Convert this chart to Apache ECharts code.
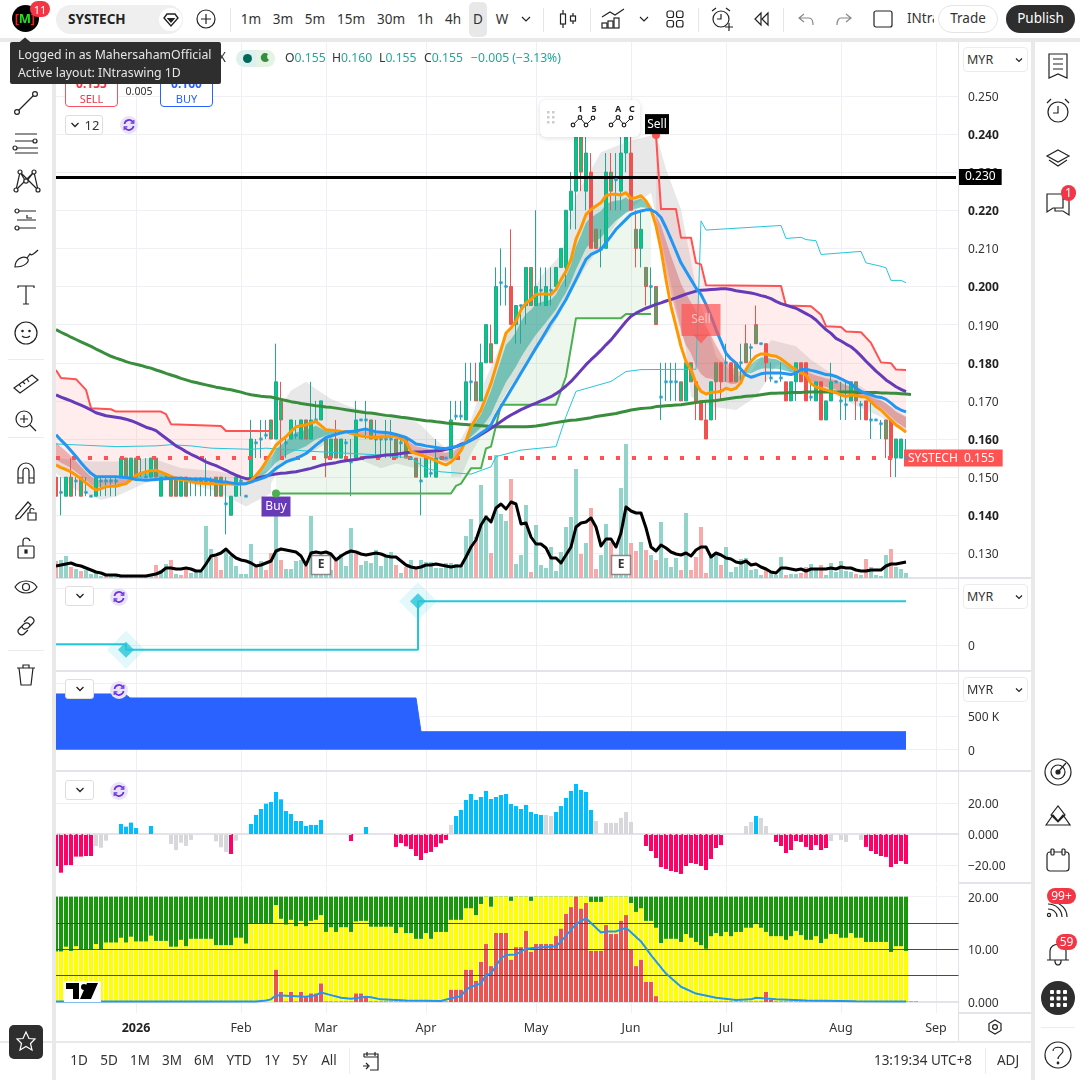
<!DOCTYPE html>
<html><head><meta charset="utf-8">
<script src="https://cdn.jsdelivr.net/npm/echarts@6/dist/echarts.min.js"></script>
<style>
html,body{margin:0;padding:0;background:#fff;width:1080px;height:1080px;overflow:hidden;font-family:"Noto Sans",sans-serif;color:#222}
#chart{position:absolute;left:0;top:0;width:1080px;height:1080px}
.o{position:absolute;box-sizing:border-box}
.t{position:absolute;white-space:nowrap;transform:translate(-50%,-50%);line-height:1}
.l{position:absolute;white-space:nowrap;transform:translateY(-50%);line-height:1}
svg.i{position:absolute;transform:translate(-50%,-50%);fill:none;stroke:#222;stroke-width:1.2;overflow:visible}
</style></head><body>
<div id="chart"></div><div id="ui"></div>
<script>
// ---------- bars: prices in 0.001 MYR ----------
const candleOpen=[150,146,145,145,149,145,146,145,145,149,149,149,149,150,150,150,150,151,150,150,150,145,150,145,145,145,145,149,149,149,149,149,145,145,143,140,145,149,145,150,159,160,161,160,160,165,159,160,161,160,160,160,165,165,155,155,155,155,159,154,155,165,165,160,160,160,160,160,155,159,155,155,150,149,150,151,150,155,155,155,166,166,165,175,170,170,180,180,185,201,200,200,190,195,195,195,195,199,195,199,200,205,205,220,225,230,225,230,210,210,210,225,228,225,235,235,210,210,200,200,190,171,175,175,175,170,170,175,170,170,165,165,175,180,180,180,175,180,180,184,185,185,185,176,175,176,175,170,175,180,180,171,170,175,165,170,175,170,169,170,170,169,170,165,165,164,160,165,155,155,155];
const candleHigh=[155,150,150,155,150,150,150,145,150,150,150,150,150,155,155,155,155,155,155,155,155,150,150,150,150,150,150,150,150,150,155,150,150,150,150,145,150,150,145,165,160,165,165,165,185,175,160,165,165,165,165,175,170,170,160,160,165,160,160,160,170,165,170,165,165,160,165,165,160,160,160,155,155,155,155,155,160,155,155,170,170,170,180,180,180,185,190,190,205,210,205,215,195,195,205,205,220,205,205,205,205,210,220,230,241,241,241,235,215,215,235,235,235,240,241,240,220,220,205,205,200,180,180,180,180,175,180,180,175,170,170,175,180,180,185,180,180,185,190,185,195,185,185,180,175,180,175,175,180,180,180,175,175,175,170,180,175,175,175,175,175,170,170,170,165,165,165,165,160,160,160];
const candleLow=[145,140,145,145,145,145,145,145,145,145,145,145,145,150,150,150,150,150,150,150,150,145,150,145,145,145,145,145,145,145,145,145,145,145,135,140,145,145,145,150,155,155,160,160,160,155,155,160,160,160,160,160,165,165,150,155,155,155,155,145,155,165,160,160,155,155,155,155,155,155,155,155,150,140,150,150,150,155,155,155,165,165,165,170,170,170,180,180,185,195,195,190,185,185,190,195,195,195,195,195,200,205,200,215,215,225,220,210,210,205,210,220,220,220,230,220,205,205,195,195,190,165,170,170,170,170,170,175,165,165,160,165,165,170,175,175,175,175,180,180,185,185,175,175,175,175,170,170,170,175,170,170,170,165,165,170,175,165,165,170,165,165,165,160,165,160,155,150,150,155,155];
const candleClose=[145,146,150,150,149,150,146,145,150,149,149,149,149,155,155,155,155,151,150,155,155,150,150,150,150,150,150,149,149,149,149,149,150,150,143,145,150,149,145,160,159,160,161,165,175,170,159,165,161,165,165,165,165,170,160,160,160,160,159,154,165,165,165,165,160,160,160,160,160,159,160,155,155,149,155,151,155,155,155,165,166,166,175,175,175,180,190,185,200,201,200,190,195,195,205,205,200,199,200,199,205,210,220,225,240,240,235,210,215,210,230,230,228,235,240,220,215,215,205,200,200,171,175,175,175,175,180,180,175,165,160,175,180,175,180,175,180,180,185,184,190,185,180,176,175,176,170,175,180,175,170,171,175,165,170,175,175,170,169,175,175,169,165,165,165,164,165,155,160,160,155];
const candleTones="RDGXDXDDGDDDDGXGXDDGXGDXXGXDDDDDXXDGGDDGDDDXGXDGDGXGDGXGXGDDGDDXDDDDXDXDXDGDGDDGDDGDXGGXGDDRGDGXGDGDGGGGGXGRXDGXDGGRXGXDXDDDDXGXXRRGXRDRXDXDXDRDDDRGGRRDGRGGDDDGXDRDDDXRGGD";
// ---------- volume pane overlay ----------
const volumeValues=[17,18,22,11,9,7,8,4,5,2,2,2,2,2,2,2,2,3,3,3,13,8,14,18,4,3,8,5,6,6,52,29,21,8,28,22,12,4,4,34,11,17,8,25,68,18,9,9,17,18,12,62,17,12,20,8,20,24,12,50,24,13,17,15,28,12,22,26,13,5,11,18,10,18,16,16,10,10,15,15,14,13,42,59,41,93,63,25,123,64,57,99,14,23,73,6,53,13,10,31,7,26,51,61,109,24,35,70,9,23,54,36,16,90,134,35,27,36,28,23,18,56,20,11,20,8,65,8,21,51,5,23,26,13,31,6,11,19,20,8,9,3,9,6,3,21,3,4,4,5,11,14,10,13,3,15,6,17,7,6,4,3,19,11,3,2,23,29,11,9,5];
const volumeDownBars=[0,3,5,10,20,23,25,26,32,33,40,42,43,45,50,56,60,68,70,72,84,87,91,95,105,107,108,111,115,116,118,120,125,127,128,129,130,133,142,146,149,150,153,160,162,167];
const volumeAverage=[12,13,14,15,13,12,10,8,6,5,3,3,3,2,2,2,2,2,2,3,4,6,10,10,9,9,10,9,7,7,14,22,23,25,29,24,20,18,17,15,12,13,15,17,27,29,28,27,26,22,13,25,26,25,26,24,18,22,25,27,26,24,23,24,25,24,22,21,21,17,13,11,10,11,13,13,14,13,12,11,12,12,21,31,38,53,61,56,70,74,69,76,74,54,55,41,34,34,30,20,20,15,23,31,51,55,56,60,51,32,39,39,31,45,71,67,65,65,50,31,27,33,30,26,24,23,25,22,28,31,31,21,25,23,20,19,16,15,17,13,14,11,9,6,5,10,10,9,8,9,7,9,9,9,9,10,9,11,10,10,8,7,7,8,8,8,12,14,14,15,16];
// ---------- moving averages ----------
const emaFast=[.1532,.1525,.152,.1514,.1505,.1496,.1485,.1475,.1466,.147,.1475,.1476,.1476,.148,.1483,.1493,.1505,.151,.1514,.1517,.1518,.1513,.1508,.1502,.1496,.1494,.1492,.1489,.1485,.1484,.1483,.1483,.1483,.1483,.1483,.1482,.1481,.1482,.1483,.1492,.1505,.152,.154,.1562,.1584,.1596,.1606,.162,.1632,.1635,.1637,.1642,.1646,.1635,.1624,.1623,.1622,.162,.1619,.1615,.1611,.1608,.1606,.1605,.1604,.1605,.1606,.1607,.1608,.16,.1593,.1567,.1562,.1558,.1554,.1549,.1543,.1537,.1532,.154,.1552,.157,.1596,.1632,.1654,.1676,.1711,.1746,.179,.1834,.1878,.1891,.1909,.1939,.1957,.1966,.1979,.198,.198,.1979,.1992,.2018,.204,.2071,.2124,.2154,.2189,.2202,.2211,.222,.2238,.2242,.2242,.224,.2246,.2231,.2233,.2238,.2224,.2202,.2159,.2097,.2018,.1948,.1896,.1843,.1803,.1782,.1746,.1725,.1718,.1722,.1723,.1725,.1733,.1729,.1733,.1748,.1782,.1803,.1817,.1823,.1823,.1819,.1817,.181,.18,.179,.1782,.1773,.1768,.1746,.1736,.1733,.1729,.1725,.1722,.1716,.1711,.1716,.1714,.1711,.171,.1698,.1685,.1676,.1663,.165,.1637,.1628,.1618];
const emaSlow=[.1611,.1597,.1584,.1569,.1554,.1538,.1523,.151,.1501,.1501,.1501,.1501,.1501,.15,.1499,.1497,.1494,.1493,.1492,.1493,.1494,.1495,.1496,.1497,.1497,.1497,.1496,.1495,.1495,.1495,.1495,.1493,.149,.1488,.1487,.1485,.1483,.1483,.1483,.1487,.1492,.1496,.1501,.1511,.1523,.1531,.154,.1545,.1549,.1555,.1562,.1573,.1584,.1594,.1604,.1608,.1612,.1616,.1619,.162,.1621,.1624,.1626,.1622,.1619,.1618,.1617,.1615,.1612,.1608,.1604,.1596,.1587,.1585,.1582,.158,.1578,.1576,.1575,.1578,.158,.1584,.159,.1597,.1606,.1615,.1624,.1637,.1663,.1685,.1707,.1729,.1751,.1773,.1795,.1817,.1839,.186,.1882,.1904,.1922,.1944,.1966,.1992,.2018,.2045,.2071,.2084,.209,.2097,.2115,.2132,.215,.2163,.2176,.2189,.2194,.2198,.2201,.2201,.2194,.2181,.2154,.2124,.2093,.2062,.204,.2018,.1996,.1979,.1953,.1922,.1887,.1856,.1825,.181,.1799,.1783,.1768,.1762,.1766,.1771,.1773,.1773,.1773,.1773,.1771,.1769,.1773,.1782,.1783,.178,.1777,.1773,.1769,.1768,.1764,.1758,.1751,.1745,.1733,.1725,.172,.1716,.1711,.1709,.1704,.1694,.1683,.1676,.1671];
const maPurple=[.1716,.171,.1705,.17,.1694,.1689,.1683,.1676,.1669,.1665,.1661,.1659,.1657,.1655,.1652,.1648,.1643,.1637,.1631,.1627,.1622,.1612,.1602,.1592,.1582,.1575,.1567,.156,.1554,.1547,.154,.1535,.153,.1524,.1518,.1511,.1505,.15,.1496,.1496,.1496,.15,.1503,.1506,.1508,.151,.1511,.1513,.1514,.1517,.152,.1523,.1527,.1531,.1534,.1536,.1538,.1541,.1543,.1545,.1546,.1549,.1552,.1553,.1554,.1556,.1558,.1559,.156,.1562,.1564,.1565,.1566,.1566,.1567,.1568,.1569,.157,.1573,.1576,.158,.1586,.1591,.1597,.1604,.1612,.162,.1628,.1637,.1646,.1655,.1663,.167,.1677,.1683,.1689,.1694,.17,.1705,.1711,.1719,.1728,.1739,.1751,.1765,.178,.1795,.1808,.182,.1833,.1847,.186,.1876,.1892,.1908,.1922,.193,.1937,.1943,.1948,.1953,.1957,.1962,.1966,.197,.1975,.198,.1984,.1988,.199,.1991,.1992,.1993,.1994,.1994,.1992,.1989,.1987,.1985,.1983,.198,.1976,.1973,.1968,.1961,.1955,.1951,.1947,.1943,.1936,.1929,.1922,.1912,.1899,.1887,.1877,.1864,.1857,.1849,.1842,.1831,.1818,.1804,.1791,.1778,.1767,.1755,.1746,.1737,.173,.1724];
const maLongGreen=[.1887,.188,.1874,.1867,.1861,.1855,.1849,.1843,.1836,.183,.1823,.1817,.1812,.1808,.1803,.1799,.1796,.1793,.1789,.1786,.1781,.1777,.1772,.1768,.1764,.1759,.1755,.1751,.1748,.1745,.1742,.1739,.1736,.1734,.1731,.1729,.1726,.1723,.1719,.1716,.1714,.1712,.1711,.171,.1707,.1704,.1701,.1698,.1696,.1693,.1691,.1689,.1687,.1686,.1684,.1683,.1681,.1679,.1677,.1675,.1673,.1671,.1669,.1668,.1666,.1664,.1662,.1661,.1659,.1657,.1656,.1654,.1652,.165,.1648,.1647,.1645,.1644,.1642,.1641,.164,.1639,.1638,.1637,.1636,.1635,.1634,.1633,.1632,.1632,.1632,.1632,.1632,.1632,.1632,.1633,.1634,.1636,.1638,.1641,.1643,.1645,.1647,.1649,.165,.1652,.1654,.1656,.1659,.1661,.1663,.1665,.1667,.167,.1673,.1676,.1678,.168,.1681,.1682,.1685,.1686,.1687,.1688,.1689,.169,.1692,.1694,.1696,.1698,.1699,.17,.1701,.1703,.1705,.1707,.1709,.171,.1712,.1713,.1714,.1716,.1718,.172,.172,.1721,.1721,.1722,.1722,.1722,.1723,.1723,.1723,.1723,.1723,.1723,.1723,.1723,.1723,.1723,.1722,.1722,.1722,.1722,.1722,.1721,.1721,.172,.172,.1719,.1718,.1717];
// ---------- sparse stop and channel lines: [bar, price] ----------
const stopRedLeft=[[0,.1781],[1,.176],[4,.1757],[6,.1729],[7,.1681],[11,.1678],[12,.1672],[21,.1672],[22,.1665],[23,.1639],[33,.1634],[34,.1621],[43,.1621]];
const stopRedRight=[[120,.2397],[121,.2203],[124,.2203],[125,.2128],[127,.2128],[128,.2062],[129,.2058],[130,.2003],[145,.2001],[146,.195],[151,.1948],[153,.1926],[154,.1896],[157,.1894],[158,.1882],[161,.188],[163,.1852],[165,.1801],[167,.1799],[168,.1782],[170,.1781]];
const stopGreen=[[44,.1457],[79,.1457],[80,.1477],[81,.1483],[83,.1523],[85,.1523],[86,.1575],[87,.158],[89,.169],[100,.169],[102,.1764],[104,.1917],[113,.1917],[114,.1928],[119,.1928]];
const channelCyan=[[0,.1587],[12,.158],[20,.1582],[23,.1585],[27,.1582],[31,.1576],[39,.1573],[42,.1576],[52,.1567],[65,.1558],[71,.155],[74,.1523],[77,.1514],[83,.1508],[87,.1527],[88,.1554],[93,.1571],[100,.158],[102,.1659],[104,.1725],[111,.1751],[114,.1777],[117,.1782],[128,.1783],[129,.2172],[130,.2148],[145,.216],[146,.2126],[149,.2129],[150,.2123],[152,.212],[153,.2084],[157,.2088],[161,.2092],[162,.2062],[165,.2053],[166,.2049],[167,.2016],[169,.2016],[170,.201]];
// ---------- grey volatility band outlines: [bar, price] ----------
const greyBandA=[[0,.155],[7,.1541],[12,.1541],[19,.155],[25,.1524],[32,.1516],[39,.1498],[43,.1523],[43,.1458],[38,.1423],[32,.1463],[27,.1481],[22,.1494],[18,.1485],[12,.1449],[9,.144],[4,.1466],[0,.151]];
const greyBandB=[[43,.1523],[45,.1687],[47,.1727],[50,.175],[52,.1731],[55,.1705],[59,.1684],[63,.1671],[71,.1654],[73,.1636],[76,.1597],[79,.1567],[79,.1536],[76,.1541],[72,.1523],[68,.1536],[65,.1523],[61,.1545],[57,.1563],[54,.1589],[51,.1563],[47,.1545],[45,.1536],[43,.1483]];
const greyBandC=[[79,.1551],[83,.165],[85,.1729],[90,.1878],[94,.1957],[97,.2027],[101,.2084],[104,.2238],[109,.2352],[114,.2378],[120,.24],[122,.2308],[125,.2202],[128,.2],[132,.1817],[136,.1764],[139,.1773],[143,.186],[148,.1843],[151,.1808],[156,.1764],[161,.1738],[165,.1703],[170,.1659],[170,.1614],[165,.1658],[159,.1694],[152,.1738],[148,.1764],[145,.1799],[144,.179],[140,.1711],[136,.1676],[131,.1685],[127,.1711],[126,.1834],[121,.2124],[119,.2246],[113,.2185],[110,.2124],[106,.2053],[103,.1983],[99,.1887],[94,.1799],[90,.172],[87,.165],[83,.1562],[81,.1501],[79,.1501]];
// ---------- level and signal values ----------
const currentPrice=.155, blackLevel=.2287;
const buySignal=[44,.1457], sellSignal=[120,.2397], sellFlag=[129,.1912], sellFlagTip=[129,.1862], earningsBars=[53,113], earningsHeight=13;
// ---------- pane 2 step line: [bar, value] ----------
const stepTrend=[[-.5,.02],[14,.02],[14,-.08],[72.4,-.08],[72.4,.78],[170,.78]];
const stepMarkers=[[14,-.08],[72.4,.78]];
// ---------- pane 3 area: [bar, value] ----------
const areaLevel=[[-.5,834000],[13.8,834000],[14.8,774000],[72,774000],[73,269000],[170,269000]];
// ---------- pane 4 histogram ----------
const momentum=[-20.5,-24.8,-19.9,-19.9,-14.5,-14.5,-14.1,-14.1,-7.7,-8.8,-4.3,0,0,6.4,4.7,7.3,3.8,0,0,5.1,0,0,0,-6.4,-10.3,-5.6,-7.7,-3.8,0,0,0,0,-4.7,-8.5,-11.5,-12.8,-4.3,0,0,6.4,12.2,16,19.4,20.5,26.9,22.2,14.7,12.8,8.3,8.3,5.1,5.8,5.8,9,0,0,0,0,0,-4.5,0,0,4.5,0,0,0,0,0,-8.3,-5.8,-7.9,-9.6,-14.1,-16.7,-12.2,-11.5,-8.3,-6,-3.8,5.8,11.5,15.4,21.8,25.6,21.8,23.7,27.6,22.4,23.7,25,25.6,19.2,17.9,16,18.6,14.1,12.8,12.2,12.2,11.5,14.1,17.9,23.1,27.6,32,28.2,26.9,15.4,8.3,0,7.1,7.1,7.1,10.3,14.1,7.7,0,0,-7.7,-10.9,-15.4,-21.2,-22.4,-23.7,-24.4,-25.6,-20.5,-18.6,-19.2,-20.5,-23.1,-16,-9,-7.1,0,0,0,0,5.1,7.7,11.5,10.3,5.1,0,-5.1,-7.7,-12.2,-10.3,-4.5,-5.1,-8.3,-10.3,-7.1,-10.3,-9,-4.5,0,-3.8,-5.1,0,0,-3.8,-8.3,-10.9,-12.8,-14.1,-14.7,-21.2,-19.2,-17.3,-19.2];
const momentumNeutralBars=[8,9,10,23,24,25,26,27,32,33,34,36,79,98,99,108,110,111,112,113,114,115,138,139,141,142,155,157,158,161];
// ---------- pane 5 stacked bars ----------
const scoreCeiling=20;
const scoreYellow=[9.6,9.6,10.5,9.7,10.6,10,10,10,11,10,11.3,11.3,11.3,12.2,11.3,12.4,11.5,11.5,11.5,12.6,11.6,11.6,11.6,10.5,10.5,11.8,10.6,12,12,12,12,12,10.8,10.8,10.8,10.8,12.2,12.2,11.1,14.9,14.9,14.9,14.9,14.9,18.4,15.8,14.7,15.6,14.4,15.4,14.4,15.4,15.6,16.5,13.3,14.2,13.3,14.2,14.2,13.3,15.3,15.4,15.4,14.3,14.3,14.3,14.3,14.3,13.1,14.2,13.1,13.1,12,12,13.1,12,13.3,13.3,13.3,15.6,15.6,15.6,17.8,17.8,16.5,18.6,20,18.1,20,20,20,19.2,20,20,20,19.2,20,20,20,20,20,20,20,20,20,20,20,19,19,19,20,20,20,20,20,18.8,17.1,17.8,15.4,15.4,14.1,11.2,12,12,12,11.4,12.9,12.2,11.4,10.8,10.1,12.5,13.1,12.5,13.3,12.5,13.3,13.3,14.1,14.1,14.8,14.1,13.3,12.5,12.5,12.5,11.8,12.5,13.5,12.7,11.8,11.8,12.5,11.2,12,12.9,12.9,12.2,12.2,13.1,12.2,12.2,11.4,11.4,11.4,11.4,11.4,9.5,10.6,10.6,9.7];
const scoreRed=[0,0,0,0,0,0,0,0,0,0,0,0,0,0,0,0,0,0,0,0,0,0,0,0,0,0,0,0,0,0,0,0,0,0,0,0,0,0,0,0,0,0,0,0,6.1,1.9,.1,1.9,.1,1.9,1.1,1.6,1.6,3.5,.1,.1,.1,.1,.1,.1,1.6,1.6,1.1,.1,.1,.1,.1,.1,.1,.1,.1,.1,.1,.1,.1,.1,.1,.1,.1,2.3,2.3,2.3,6.1,6.1,4,7.6,11,6.8,13.1,13.1,13.1,8,10.4,10.4,13.5,9.5,11,11,11,11,12.5,13.9,16.7,18,20,17.7,18.8,9.7,9.7,9.7,14.6,12.9,12.9,15.4,16.5,9.9,6.8,8,3.8,3.8,1.1,.1,.1,.1,.1,.1,.1,.1,.1,.1,.1,.1,.1,.1,.1,.1,.1,.1,.1,.1,.1,.1,1.9,.4,.1,.1,.1,.1,.1,.1,.1,.1,.1,.1,.1,.1,.1,.1,.1,.1,.1,.1,.1,.1,.1,.1,.1,.1,.1,.1,.1,.1,.1];
const scoreLine=[[0,.1],[40,.1],[42,.3],[43,.5],[44,1.3],[48,1.1],[50,1],[52,1.3],[53,1.8],[55,1.3],[57,.8],[59,.6],[62,1],[63,.9],[65,.5],[70,.3],[74,.25],[77,.2],[79,.7],[81,1.1],[82,2.3],[83,2.9],[85,3.5],[86,5.1],[87,5.4],[89,8.3],[90,8.9],[92,9],[93,9.6],[94,10.1],[96,10.3],[100,10.6],[101,11.5],[103,13.7],[104,14.8],[106,15.9],[109,13.2],[110,13.4],[112,13.4],[114,14.1],[117,11.5],[119,8.9],[122,5.4],[125,2.9],[128,1.6],[132,.8],[136,.4],[139,.5],[140,.8],[144,.5],[150,.3],[160,.15],[170,.1]];
const scoreLevels=[15,10,5];
// ---------- axis labels ----------
const monthTickBars=[16,37,54,74,96,115,134,157,176];
const monthTickLabels=["2026","Feb","Mar","Apr","May","Jun","Jul","Aug","Sep"];
const priceTicks=[.13,.14,.15,.16,.17,.18,.19,.20,.21,.22,.23,.24,.25];
const boldPriceTicks=[.14,.16,.18,.20,.22,.24];
const categories=[];for(let n=0;n<181;n++)categories.push("bar"+n);
const BARS=candleOpen.length;

// ---------- panes ----------
const GRID='#f0f0f4', SEP='#e3e3ea', LABEL='#333';
const panes=[{top:42,height:536},{top:579,height:92},{top:672,height:99},{top:772,height:111},{top:884,height:129}];
const grids=panes.map(p=>({left:53.5,width:905,top:p.top,height:p.height,containLabel:false}));
function catAxis(k){return{type:'category',gridIndex:k,data:categories,boundaryGap:true,
  axisLine:{show:true,lineStyle:{color:SEP,width:2}},
  axisTick:{show:false,alignWithLabel:true,customValues:monthTickBars},
  axisLabel:{show:k==4,customValues:monthTickBars,margin:9,fontSize:12.5,fontFamily:'Noto Sans',color:LABEL,
    formatter:v=>{const t=monthTickLabels[monthTickBars.indexOf(categories.indexOf(v))]||'';return t==='2026'?'{b|2026}':t},rich:{b:{fontWeight:'bold',fontSize:12.5,color:'#222',fontFamily:'Noto Sans'}}},
  splitLine:{show:true,alignWithLabel:true,lineStyle:{color:GRID,width:1}}}}
function valAxisX(k){return{type:'value',gridIndex:k,min:-.5,max:180.5,
  axisLine:{show:true,onZero:false,lineStyle:{color:SEP,width:2}},
  axisTick:{show:false,customValues:monthTickBars},axisLabel:{show:false},
  splitLine:{show:true,lineStyle:{color:GRID,width:1}}}}
function yAx(k,min,max,vals,fmt,extra){return Object.assign({type:'value',gridIndex:k,position:'right',min,max,scale:true,
  axisLine:{show:true,onZero:false,lineStyle:{color:SEP,width:1}},
  axisTick:{show:false,customValues:vals},
  axisLabel:{show:true,customValues:vals,margin:9.5,fontSize:12,fontFamily:'Noto Sans',color:LABEL,formatter:fmt,padding:[3,0,0,0],
     rich:{b:{fontWeight:'bold',fontSize:12,color:'#222',fontFamily:'Noto Sans'}}},
  splitLine:{show:true,lineStyle:{color:GRID,width:1}}},extra||{})}

const xAxes=[catAxis(0),valAxisX(1),valAxisX(2),catAxis(3),catAxis(4)];
const yAxes=[
 yAx(0,.12355,.26412,priceTicks,v=>{const s=v.toFixed(3);return boldPriceTicks.some(b=>Math.abs(b-v)<1e-6)?'{b|'+s+'}':s}),
 yAx(1,-.454,1.171,[0,1],v=>v===0?'0':''),
 yAx(2,-319000,1163000,[0,500000,1000000],v=>v===0?'0':(v===500000?'500 K':'')),
 yAx(3,-31.4,39.7,[-20,0,20],v=>v===0?'0.000':(v<0?'\u2212':'')+Math.abs(v).toFixed(2)),
 yAx(4,-2.09,22.4,[0,10,20],v=>v===0?'0.000':v.toFixed(2)),
 {type:'value',gridIndex:0,show:false,min:0,max:536,splitLine:{show:false}}
];

// polygon through library scales
function polySeries(pts,color,z){return{type:'custom',xAxisIndex:0,yAxisIndex:0,z,silent:true,clip:true,data:[pts[0]],encode:{x:0,y:1},
  renderItem:(p,api)=>{return{type:'polygon',shape:{points:pts.map(q=>api.coord(q))},style:{fill:color,stroke:null}}}}}
function rev(a){return a.slice().reverse()}
function slice(arr,a,b){const out=[];for(let i=a;i<=b;i++)out.push([i,arr[i]]);return out}

const RIBBON_TOP=.82, RIBBON_LOW=.25;
const ribbonData=[];for(let i=0;i<BARS-1;i++)ribbonData.push([i,emaFast[i],emaSlow[i],emaFast[i+1],emaSlow[i+1]]);
const ribbon={type:'custom',xAxisIndex:0,yAxisIndex:0,z:2,silent:true,data:ribbonData,encode:{x:0,y:1},
  renderItem:(p,api)=>{const i=api.value(0),a=api.value(1),b=api.value(2),c=api.value(3),d=api.value(4);
    const m=(s,t,f)=>t+(s-t)*f;
    return{type:'polygon',shape:{points:[api.coord([i,m(a,b,RIBBON_TOP)]),api.coord([i+1,m(c,d,RIBBON_TOP)]),api.coord([i+1,m(c,d,RIBBON_LOW)]),api.coord([i,m(a,b,RIBBON_LOW)])]},
    style:{fill:(a+c)>=(b+d)?'rgba(38,166,154,.55)':'rgba(200,50,50,.32)'}}}};

const candleData=candleOpen.map((o,i)=>{
  const tone=candleTones[i];
  const up={G:'#00cc7e',X:'#00cc7e',R:'#ef5350',D:'#26a69a'}[tone];
  const edge={G:'#26a69a',X:'#ef5350',R:'#ef5350',D:'#26a69a'}[tone];
  return{value:[o/1000,candleClose[i]/1000,candleLow[i]/1000,candleHigh[i]/1000],
    itemStyle:{color:up,color0:up,borderColor:edge,borderColor0:edge,borderColorDoji:edge}}});
const dojiDots=[];candleOpen.forEach((o,i)=>{if(candleTones[i]==='D')dojiDots.push([i,candleClose[i]/1000])});

const volumeData=volumeValues.map((v,i)=>({value:v,itemStyle:{color:volumeDownBars.includes(i)?'#f8a9a9':'#92d3ca'}}));

function line(data,color,width,z,extra){return Object.assign({type:'line',xAxisIndex:0,yAxisIndex:0,data,symbol:'none',z,silent:true,
  lineStyle:{color,width,join:'round'},animation:false},extra||{})}

const series=[
 polySeries(greyBandA,'rgba(120,120,120,.17)',1),
 polySeries(greyBandB,'rgba(120,120,120,.17)',1),
 polySeries(greyBandC,'rgba(120,120,120,.17)',1),
 polySeries(stopRedLeft.concat(rev(slice(emaFast,0,43))),'rgba(255,82,82,.1)',1),
 polySeries(stopRedRight.concat(rev(slice(emaFast,120,170))),'rgba(255,82,82,.1)',1),
 polySeries(slice(emaFast,44,119).concat(rev(stopGreen)),'rgba(76,175,80,.1)',1),
 ribbon,
 {type:'bar',xAxisIndex:0,yAxisIndex:5,data:volumeData,barWidth:4,z:3,silent:true},
 {type:'candlestick',xAxisIndex:0,yAxisIndex:0,data:candleData,barWidth:4,z:4,silent:true,itemStyle:{borderWidth:1}},
 {type:'scatter',xAxisIndex:0,yAxisIndex:0,data:dojiDots,symbol:'rect',symbolSize:[3,3],itemStyle:{color:'#2a9fd6'},z:5,silent:true},
 line(channelCyan,'#26c6da',1,6),
 line(stopRedLeft,'#ff5252',2,6),
 line(stopRedRight,'#ff5252',2,6,{markPoint:{silent:true,data:[
    {coord:sellSignal,symbol:'circle',symbolSize:8,itemStyle:{color:'#ff5252'},label:{show:false}},
    {coord:sellSignal,symbol:'rect',symbolSize:[24,20],symbolOffset:[1,-11],itemStyle:{color:'#000'},
     label:{show:true,formatter:'Sell',color:'#fff',fontSize:12,fontFamily:'Noto Sans',position:'inside'}}]}}),
 line(stopGreen,'#4caf50',2,6,{markPoint:{silent:true,data:[
    {coord:buySignal,symbol:'rect',symbolSize:[29,20],symbolOffset:[0,13],itemStyle:{color:'#673ab7'},
     label:{show:true,formatter:'Buy',color:'#fff',fontSize:12,fontFamily:'Noto Sans',position:'inside'}},
    {coord:buySignal,symbol:'circle',symbolSize:8,itemStyle:{color:'#4caf50'},label:{show:false}}]}}),
 line(maLongGreen,'#388e3c',3,7),
 line(maPurple,'#673ab7',3,7),
 line(emaFast,'#ff9800',3,8),
 line(emaSlow,'#2196f3',3,9),
 line(volumeAverage,'#000',3,10,{yAxisIndex:5,markPoint:{silent:true,data:earningsBars.map(b=>({coord:[b,earningsHeight],symbol:'rect',symbolSize:[19,19],
     itemStyle:{color:'#fff',borderColor:'#8a8a8a',borderWidth:1.5},label:{show:true,formatter:'E',color:'#333',fontSize:12,fontWeight:'bold',fontFamily:'Noto Sans',position:'inside'}}))}}),
 // price levels and red flag
 {type:'line',xAxisIndex:0,yAxisIndex:0,data:[],z:11,silent:true,markLine:{silent:true,symbol:'none',animation:false,data:[
    [{coord:[0,blackLevel],lineStyle:{color:'#000',width:3,type:'solid'},
      label:{show:true,position:'end',distance:3,formatter:'0.230',backgroundColor:'#000',color:'#fff',fontSize:12,fontFamily:'Noto Sans',padding:[2,6,2,6]}},{coord:[180,blackLevel]}],
    [{coord:[0,currentPrice],lineStyle:{color:'#ff5252',width:4,type:[4,12]},
      label:{show:true,position:'end',distance:-2,formatter:'{a|SYSTECH}{b|0.155}',rich:{a:{color:'#fff',backgroundColor:'#ff5252',fontSize:12,fontFamily:'Noto Sans',padding:[3,4,2,4],width:46},b:{color:'#fff',backgroundColor:'#ff5252',fontSize:12,fontFamily:'Noto Sans',padding:[3,8,2,6]}}}},{coord:[170,currentPrice]}]
 ]}},
 {type:'scatter',xAxisIndex:0,yAxisIndex:0,data:[sellFlag],symbol:'rect',symbolSize:[39,32],itemStyle:{color:'rgba(255,82,82,.88)'},z:12,silent:true,
   label:{show:true,position:'inside',formatter:'Sell',color:'rgba(255,255,255,.7)',fontSize:12,fontFamily:'Noto Sans'}},
 {type:'scatter',xAxisIndex:0,yAxisIndex:0,data:[sellFlagTip],symbol:'triangle',symbolRotate:180,symbolSize:[16,9],itemStyle:{color:'rgba(255,82,82,.88)'},z:12,silent:true},
 // pane 2
 {type:'line',xAxisIndex:1,yAxisIndex:1,data:stepTrend,symbol:'none',lineStyle:{color:'#26c6da',width:2},z:3,silent:true},
 {type:'scatter',xAxisIndex:1,yAxisIndex:1,data:stepMarkers,symbol:'diamond',symbolSize:38,itemStyle:{color:'rgba(38,198,218,.16)'},z:2,silent:true},
 {type:'scatter',xAxisIndex:1,yAxisIndex:1,data:stepMarkers,symbol:'diamond',symbolSize:16,itemStyle:{color:'#26c6da'},z:4,silent:true},
 // pane 3
 {type:'line',xAxisIndex:2,yAxisIndex:2,data:areaLevel,symbol:'none',lineStyle:{color:'#2962ff',width:1},areaStyle:{color:'#2962ff',opacity:1},z:3,silent:true},
 // pane 4
 {type:'bar',xAxisIndex:3,yAxisIndex:3,barWidth:4,z:3,silent:true,
   data:momentum.map((v,i)=>({value:v===0?null:v,itemStyle:{color:momentumNeutralBars.includes(i)?'#d8d8dc':(v>0?'#00bfff':'#ff0066')}})),
   markLine:{silent:true,symbol:'none',label:{show:false},lineStyle:{color:'#e3e3e8',type:'dashed',width:1},data:[{yAxis:0}]}},
 // pane 5
 {type:'bar',xAxisIndex:4,yAxisIndex:4,barWidth:4,barGap:'-100%',z:3,silent:true,data:scoreYellow.map(()=>scoreCeiling),itemStyle:{color:'#169a0a'}},
 {type:'bar',xAxisIndex:4,yAxisIndex:4,barWidth:4,barGap:'-100%',z:3,silent:true,data:scoreYellow,itemStyle:{color:'#ffff00'}},
 {type:'bar',xAxisIndex:4,yAxisIndex:4,barWidth:4,barGap:'-100%',z:3,silent:true,data:scoreRed,itemStyle:{color:'#ef5350'}},
 {type:'line',xAxisIndex:4,yAxisIndex:4,data:[],z:4,silent:true,markLine:{silent:true,symbol:'none',label:{show:false},lineStyle:{color:'#7b1fa2',width:1,type:'solid'},data:scoreLevels.map(v=>({yAxis:v}))}},
 {type:'line',xAxisIndex:4,yAxisIndex:4,data:scoreLine,symbol:'none',lineStyle:{color:'#2196f3',width:2},z:5,silent:true}
];

const chart=echarts.init(document.getElementById('chart'),null,{renderer:'canvas'});
chart.setOption({animation:false,backgroundColor:'#fff',grid:grids,xAxis:xAxes,yAxis:yAxes,series});

// ---------- interface chrome ----------
const ui=document.getElementById('ui');let h='';
const box=(x,y,w,H,st)=>{h+=`<div class="o" style="left:${x}px;top:${y}px;width:${w}px;height:${H}px;${st||''}"></div>`};
const T=(x,y,s,st)=>{h+=`<div class="t" style="left:${x}px;top:${y}px;font-size:14px;${st||''}">${s}</div>`};
const L=(x,y,s,st)=>{h+=`<div class="l" style="left:${x}px;top:${y}px;font-size:14px;${st||''}">${s}</div>`};
const I=(x,y,w,H,inner,st)=>{h+=`<svg class="i" style="left:${x}px;top:${y}px;${st||''}" width="${w}" height="${H}" viewBox="0 0 ${w} ${H}">${inner}</svg>`};
const C=(x,y,r,st)=>`<circle cx="${x}" cy="${y}" r="${r}" ${st||''}/>`;
// frames
box(0,0,1080,38,'background:#fff');box(0,38,1080,4,'background:#e9e9ea');
box(0,42,52,998,'background:#fff');box(52,38,4,1042,'background:#e9e9ea');
box(1031,38,4,1042,'background:#e9e9ea');box(1035,42,45,1038,'background:#fff');
[577,670,770,882,1012].forEach(y=>box(959,y,72,2,'background:#e3e3ea'));
box(0,1041,1080,39,'background:#fff');box(0,1041,1031,2,'background:#e9e9ea');box(52,1041,4,39,'background:#e9e9ea');box(1031,1041,4,39,'background:#e9e9ea');
box(958,1013,1,28,'background:#e0e0e6');
// header avatar
h+=`<div class="o" style="left:12px;top:5px;width:27px;height:27px;border-radius:50%;background:#000"></div>`;
T(25,18,'M','color:#21e021;font-weight:bold;font-size:13px');T(17,18,'[','color:#e22;font-weight:bold;font-size:13px');T(33,18,'\u005D','color:#e22;font-weight:bold;font-size:13px');
h+=`<div class="o" style="left:30px;top:1px;width:20px;height:16px;border-radius:8px;background:#f23645"></div>`;T(40,9,'11','color:#fff;font-size:11px');
box(56,5,127,29,'background:#efefef;border-radius:15px');L(68,20,'SYSTECH','font-weight:bold;font-size:13.5px;color:#222');
h+=`<div class="o" style="left:159px;top:8px;width:23px;height:23px;border-radius:50%;background:#fff"></div>`;
I(170.5,19.5,16,14,'<path d="M4 1H12L15 5L8 13L1 5Z" stroke-width="1.4"/><path d="M5 5.5H11L8 9Z" fill="#222"/>');
I(206,19,20,20,C(10,10,9)+'<path d="M10 5V15M5 10H15"/>');
box(230,8,1,24,'background:#e6e6e6');
box(469,2,18,35,'background:#e8e8e8;border-radius:5px');
[['1m',251],['3m',283],['5m',315],['15m',351],['30m',391],['1h',425],['4h',453],['D',478],['W',502]].forEach(a=>T(a[1],20,a[0],'font-size:13.5px;color:#333'));
I(526,19,10,6,'<path d="M1 1L5 5L9 1"/>');box(543,8,1,24,'background:#e6e6e6');
I(568,19,22,22,'<path d="M6 2V20M16 5V16"/><rect x="3.5" y="6" width="5" height="10" fill="#fff"/><rect x="13.5" y="8" width="5" height="5" fill="#fff"/>');
box(590,8,1,24,'background:#e6e6e6');
I(613,19,26,22,'<path d="M2 9L10 4L15 7L24 1"/><rect x="2" y="15" width="5" height="5"/><rect x="8" y="13" width="5" height="7"/><rect x="14" y="10" width="5" height="10"/>');
I(644,19,10,6,'<path d="M1 1L5 5L9 1"/>');
I(675,19,18,18,'<rect x="1" y="1" width="6.5" height="6.5" rx="2"/><rect x="10.5" y="1" width="6.5" height="6.5" rx="2"/><rect x="1" y="10.5" width="6.5" height="6.5" rx="2"/><rect x="10.5" y="10.5" width="6.5" height="6.5" rx="2"/>');
box(698,8,1,24,'background:#e6e6e6');
I(722,19,24,24,C(11,12,8)+'<path d="M11 7V12H7M2 4L6 1M20 4L16 1M19 16V24M15 20H23"/>');
I(761,19,16,14,'<path d="M8 1L2 7L8 13ZM15 1L9 7L15 13Z"/>');box(783,8,1,24,'background:#e6e6e6');
I(806,19,16,14,'<path d="M6 2L1 6L6 10M1 6H11C13 6 15 8 15 13" stroke="#888"/>');
I(844,19,16,14,'<path d="M10 2L15 6L10 10M15 6H5C3 6 1 8 1 13" stroke="#888"/>');
I(883,19,20,18,'<rect x="1" y="1" width="18" height="16" rx="2"/>');
L(907,19,'INtra','color:#333;font-size:13.5px;width:27px;overflow:hidden');
box(938,5,60,28,'background:#fff;border:1px solid #e4e4e4;border-radius:14px');T(968,19,'Trade','color:#333;font-size:13.5px');
box(1006,5,69,28,'background:#2e2e2e;border-radius:14px');T(1040.5,19,'Publish','color:#fff;font-size:13.5px');
// legend row
L(218,58,'X','font-size:13.5px;color:#333');
box(236,50,39,17,'background:#dff1ee;border-radius:9px');box(256,50,19,17,'background:#e4f3e4;border-radius:0 9px 9px 0');
h+=`<div class="o" style="left:243px;top:54px;width:9px;height:9px;border-radius:50%;background:#00695c"></div>`;
I(265,58,10,10,'<path d="M8 1A4.5 4.5 0 1 0 9 7A4 4 0 0 1 8 1Z" fill="#388e3c" stroke="none"/>');
const tg='color:#26a69a';
[['O','0.155',285],['H','0.160',332],['L','0.155',379],['C','0.155',424]].forEach(a=>L(a[2],58,`<span style="color:#333">${a[0]}</span><span style="${tg}">${a[1]}</span>`,'font-size:12.2px'));
L(471,58,`<span style="${tg}">\u22120.005 (\u22123.13%)</span>`,'font-size:12.2px');
// buy/sell buttons
box(65,72,53,35,'background:#fff;border:1px solid #f7525f;border-radius:4px');T(91.5,84,'0.155','color:#f23645;font-size:12px;font-weight:bold');T(91.5,98,'SELL','color:#f23645;font-size:11px');
T(139,91,'0.005','font-size:10.5px;color:#333');
box(160,72,53,35,'background:#fff;border:1px solid #2962ff;border-radius:4px');T(186.5,84,'0.160','color:#2962ff;font-size:12px;font-weight:bold');T(186.5,98,'BUY','color:#2962ff;font-size:11px');
// tooltip
box(10,42,211,42,'background:#2e2e2e;border-radius:2px');L(18,55,'Logged in as MahersahamOfficial','color:#e6e6e6;font-size:12.3px');L(18,73,'Active layout: INtraswing 1D','color:#e6e6e6;font-size:12.3px');
I(25,40,12,5,'<path d="M0 5L6 0L12 5Z" fill="#2e2e2e" stroke="none"/>');
// legend controls
const sync=(x,y)=>{h+=`<div class="o" style="left:${x-9}px;top:${y-9}px;width:18px;height:18px;border-radius:50%;background:#e9e3f6"></div>`;
  I(x,y,12,12,'<path d="M1.5 5A4.6 4.6 0 0 1 10 3.2M10.5 7A4.6 4.6 0 0 1 2 8.8" stroke="#6b2fe0" stroke-width="1.7"/><path d="M10.8 1V4.2H7.6M1.2 11V7.8H4.4" stroke="#6b2fe0" stroke-width="1.2"/>')};
const drop=(x,y,w,txt)=>{box(x,y,w,20,'background:#fff;border:1px solid #dedede;border-radius:3px');I(x+(txt?10:w/2),y+10,9,6,'<path d="M1 1L4.5 4.5L8 1" stroke-width="1.3"/>');if(txt)T(x+w-11,y+10,txt,'font-size:13px;color:#333')};
drop(65,115,38,'12');sync(129,125);drop(65,586,29);sync(119,597);drop(65,679,29);sync(119,690);drop(65,780,29);sync(119,791);
// floating wave tool
box(540,100,100,37,'background:#fff;border-radius:6px;box-shadow:0 1px 5px rgba(0,0,0,.14)');
I(551,118,8,14,'<g fill="#ccc" stroke="none"><rect x="0" y="0" width="2.5" height="2.5"/><rect x="5" y="0" width="2.5" height="2.5"/><rect x="0" y="5" width="2.5" height="2.5"/><rect x="5" y="5" width="2.5" height="2.5"/><rect x="0" y="10" width="2.5" height="2.5"/><rect x="5" y="10" width="2.5" height="2.5"/></g>');
const wave='<path d="M2 12L9 4.5L15 12L22 5" stroke-width="1"/><circle cx="2" cy="12" r="1.8" fill="#fff"/><circle cx="9" cy="4.5" r="1.8" fill="#fff"/><circle cx="15" cy="12" r="1.8" fill="#fff"/><circle cx="22" cy="5" r="1.8" fill="#fff"/>';
I(583,120,24,14,wave);I(621,120,24,14,wave);
T(580,108,'1','font-size:9px;font-weight:bold');T(594,108,'5','font-size:9px;font-weight:bold');T(618,108,'A','font-size:9px;font-weight:bold');T(632,108,'C','font-size:9px;font-weight:bold');
// MYR boxes
const myr=y=>{box(963,y,65,25,'background:#fff;border:1px solid #ececec;border-radius:4px');L(967,y+12.5,'MYR','font-size:12.5px;color:#333');I(1019,y+13,8,5,'<path d="M1 1L4 4L7 1" stroke-width="1.2"/>')};
myr(47);myr(584);myr(677);
// TV logo
box(64,981,37,21,'background:#fff');
I(82,991,32,16,'<path d="M0 0H13V16H7V6H0Z M21 0H32L25 16H14Z" fill="#000" stroke="none"/><circle cx="18" cy="4" r="3" fill="#000" stroke="none"/>');
// time axis settings
I(995,1027,14,16,'<path d="M7 1L13 4.5V11.5L7 15L1 11.5V4.5Z"/>'+C(7,8,2.4));
// left tools
const icons=[
[103,24,24,'<path d="M4 20L20 4"/>'+C(3,21,2.4,'fill="#fff"')+C(21,3,2.4,'fill="#fff"')],
[143,26,22,'<path d="M2 2H24M2 9H20M4 16H25M2 21H25"/>'+C(22,9,2,'fill="#fff"')+C(2,16,2,'fill="#fff"')],
[181,26,26,'<path d="M3 22L7 4L13 14L21 4L25 22M7 4L25 22M3 22L21 4"/>'+C(3,22,2,'fill="#fff"')+C(7,4,2,'fill="#fff"')+C(21,4,2,'fill="#fff"')+C(25,22,2,'fill="#fff"')+C(13,13,2.2,'fill="#fff"')],
[219,24,22,'<path d="M3 3H22M3 12H22M3 20H22M13 7V10H18"/>'+C(3,3,2,'fill="#fff"')+C(3,20,2,'fill="#fff"')],
[258,26,20,'<path d="M2 19C2 12 9 7 14 10C18 13 12 19 2 19ZM14 10L17 6C18 8 21 6 25 2"/>'],
[295,18,20,'<path d="M1 3V1H17V3M9 1V19M6 19H12"/>'],
[333,24,24,C(12,12,11)+C(8.5,10,.7,'fill="#222"')+C(15.5,10,.7,'fill="#222"')+'<path d="M8 15C10 17 14 17 16 15"/>'],
[384,26,20,'<path d="M1 14L19 1L25 6L7 19ZM6 10L8 13M10 8L12 10M14 5L16 8"/>'],
[421,24,24,C(10,10,8)+'<path d="M16 16L22 22M6 10H14M10 6V14"/>'],
[473,18,22,'<path d="M1 21V9A8 8 0 0 1 17 9V21H12V9A3 3 0 0 0 6 9V21ZM1 16H6M12 16H17"/>'],
[510,24,24,'<path d="M2 18L14 4L17 7L6 20L2 21ZM14 18V22H22V15H14ZM16 15V12C16 10 20 10 20 12"/>'],
[548,18,24,'<rect x="1" y="10" width="16" height="12" rx="1"/><path d="M6 10V5C6 1 12 1 13 5"/><rect x="8" y="14" width="2" height="3" fill="#222"/>'],
[587,24,16,'<path d="M1 8C6 0 18 0 23 8C18 16 6 16 1 8Z"/>'+C(12,8,3.5)],
[626,24,24,'<path d="M10 8L14 4C17 1 22 6 19 9L14 14C11 16 8 15 8 12M14 16L10 20C7 23 2 18 5 15L10 10C13 8 16 9 16 12"/>'],
[675,20,22,'<path d="M1 4H19M7 4V1H13V4M3 4L5 21H15L17 4"/>']];
icons.forEach(a=>I(26,a[0],a[1],a[2],a[3]));
box(8,359,36,1,'background:#ececec');box(8,437,36,1,'background:#ececec');box(8,650,36,1,'background:#ececec');
box(9,1025,34,34,'background:#2e2e2e;border-radius:5px');
I(26,1041,20,20,'<path d="M10 1L13 7.5L19 8L14.5 12.5L16 19L10 15.5L4 19L5.5 12.5L1 8L7 7.5Z" stroke="#fff"/>');
// right tools
const rIcons=[
[66,20,26,'<path d="M1 1H19V25L10 21L1 25ZM5 6H15M5 11H15M5 16H15"/>'],
[111,26,26,C(13,14,10)+'<path d="M13 8V15H8M2 5L6 1M24 5L20 1"/>'],
[158,24,18,'<path d="M12 1L23 7L12 13L1 7ZM3 11L12 17L21 11"/>'],
[204,24,24,'<path d="M1 2H17V16H7L1 20ZM9 16V19H17L23 23V7H17"/>'],
[772,28,28,C(14,14,13)+C(14,14,7)+C(14,14,2,'fill="#222"')+'<path d="M14 14L22 5"/>'],
[815,26,22,'<path d="M1 21L8 11L13 17L18 11L25 21ZM6 11L13 2L20 11L13 18Z"/>'],
[860,24,24,'<rect x="1" y="4" width="22" height="19" rx="3"/><rect x="5" y="1" width="3" height="6" rx="1" fill="#fff"/><rect x="16" y="1" width="3" height="6" rx="1" fill="#fff"/>'],
[910,22,16,'<circle cx="2" cy="13" r="1.6"/><path d="M1 7C6 7 10 10 10 15M1 2C9 2 15 8 15 15M6 0C14 1 20 7 20 15"/>'],
[953,24,26,'<path d="M4 20V11C4 2 20 2 20 11V20M1 20H23M9 20V22C10 26 14 26 15 22V20"/>'],
[1055,28,28,C(14,14,13)+'<path d="M9 10C9 5 19 5 19 10C19 13 14 14 14 18"/>'+C(14,22,.8,'fill="#222"')]];
rIcons.forEach(a=>I(1058,a[0],a[1],a[2],a[3]));
h+=`<div class="o" style="left:1041px;top:981px;width:34px;height:34px;border-radius:50%;background:#2e2e2e"></div>`;
I(1058,998,18,18,[0,6.5,13].map(y=>[0,6.5,13].map(x=>`<rect x="${x+1}" y="${y+1}" width="4" height="4" rx="1" fill="#fff" stroke="none"/>`).join('')).join(''));
box(1041,1027,34,1,'background:#ececec');
const badge=(x,y,w,t2)=>{h+=`<div class="o" style="left:${x}px;top:${y}px;width:${w}px;height:16px;border-radius:8px;background:#f23645"></div>`;T(x+w/2,y+8,t2,'color:#fff;font-size:12px')};
badge(1047,888,29,'99+');badge(1056,934,21,'59');badge(1061,185,15,'1');
// bottom range bar
[['1D',79],['5D',109],['1M',140],['3M',172],['6M',204],['YTD',239],['1Y',272],['5Y',300],['All',329]].forEach(a=>T(a[1],1061,a[0],'font-size:13.5px;color:#333'));
box(349,1048,1,26,'background:#ececec');
I(371,1061,18,20,'<path d="M2 6V3H16V19H8M5 1V5M13 1V5M2 6H16M1 15H6M4 12L7 15L4 18"/>');
T(923,1061,'13:19:34 UTC+8','font-size:13.5px;color:#333');box(985,1048,1,26,'background:#ececec');T(1008,1061,'ADJ','font-size:13.5px;color:#333');
ui.innerHTML=h;
</script></body></html>
